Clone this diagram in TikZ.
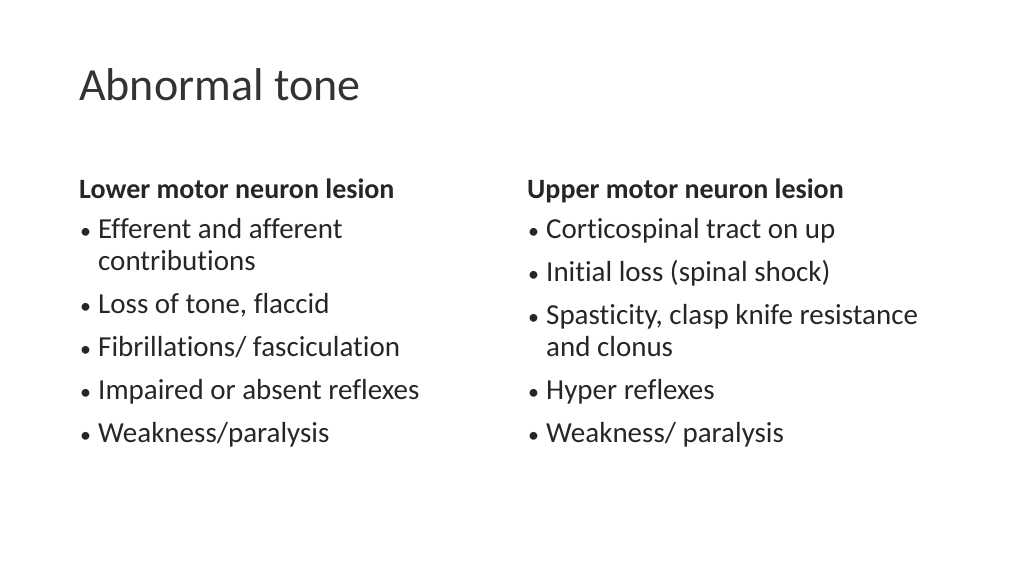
\documentclass[tikz,border=0pt]{standalone}
\usepackage{fontspec}
\setmainfont{Carlito}[Ligatures={NoCommon}]
\begin{document}
\begin{tikzpicture}[x=1pt,y=-1pt,
  txt/.style={anchor=base west,inner sep=0pt,font=\fontsize{29}{34}\selectfont,text=black!85},
  hd/.style={txt,font=\fontsize{28}{34}\selectfont\bfseries},
  bul/.style={anchor=base west,inner sep=0pt,font=\fontsize{22}{30}\selectfont,text=black!85}]
\useasboundingbox (0,0) rectangle (1024,576);
\node[anchor=base west,inner sep=0pt,font=\fontsize{46}{50}\selectfont,text=black!80] (title) at (79,100) {Abnormal tone};
\node[hd] (lh) at (79,198) {Lower motor neuron lesion};
\foreach \y/\t [count=\i] in {238/{Efferent and afferent},270/{contributions},313/{Loss of tone, flaccid},356/{Fibrillations/ fasciculation},399/{Impaired or absent reflexes},442/{Weakness/paralysis}}
  \node[txt] (l\i) at (98,\y) {\t};
\foreach \y [count=\i] in {238,313,356,399,442}
  \node[bul] (lb\i) at (80,\y) {•};
\node[hd] (rh) at (527,198) {Upper motor neuron lesion};
\foreach \y/\t [count=\i] in {238/{Corticospinal tract on up},281/{Initial loss (spinal shock)},324/{Spasticity, clasp knife resistance},356/{and clonus},399/{Hyper reflexes},442/{Weakness/ paralysis}}
  \node[txt] (r\i) at (546,\y) {\t};
\foreach \y [count=\i] in {238,281,324,399,442}
  \node[bul] (rb\i) at (528,\y) {•};
\end{tikzpicture}
\end{document}
